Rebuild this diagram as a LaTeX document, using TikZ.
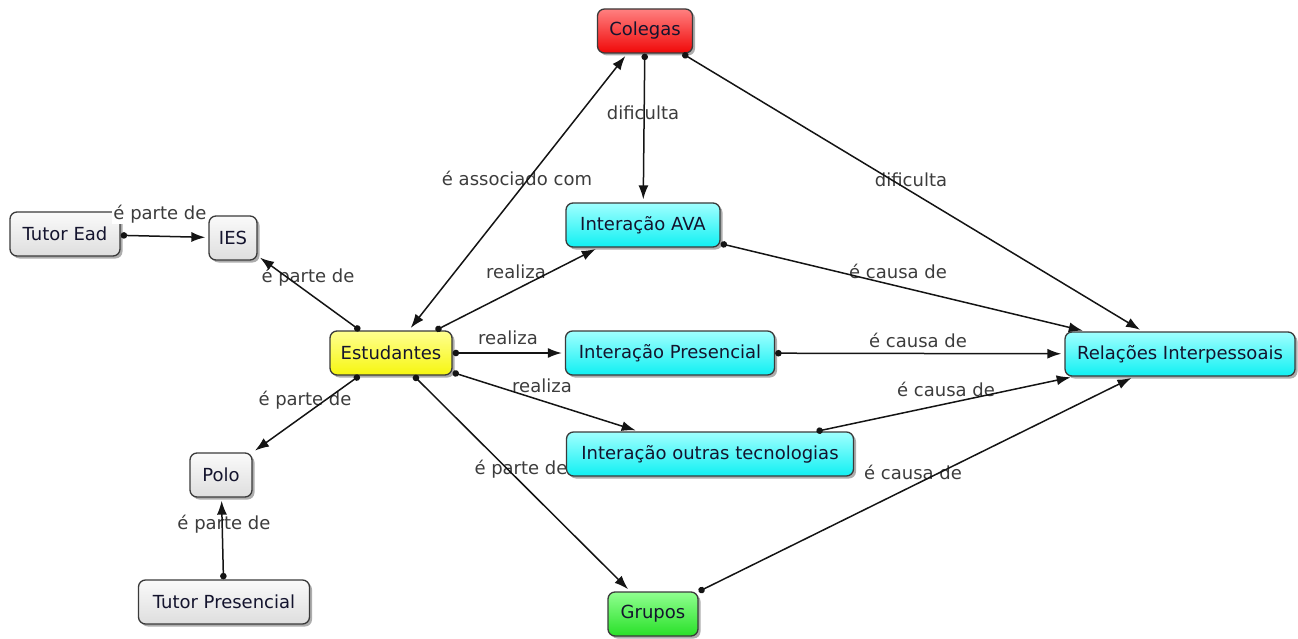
\documentclass[tikz,border=0pt]{standalone}
\usepackage{fontspec}
\setmainfont{DejaVu Sans}
\usetikzlibrary{arrows.meta,shadows}
\definecolor{boxline}{HTML}{3A3A3A}
\definecolor{nodetext}{HTML}{14142E}
\definecolor{labeltext}{HTML}{3C3C3C}
\definecolor{grayTop}{HTML}{FAFAFA}
\definecolor{grayBot}{HTML}{DEDEDE}
\definecolor{cyanTop}{HTML}{A0FFFF}
\definecolor{cyanBot}{HTML}{10F0F2}
\definecolor{yellowTop}{HTML}{FFFF90}
\definecolor{yellowBot}{HTML}{F6F610}
\definecolor{redTop}{HTML}{FF8080}
\definecolor{redBot}{HTML}{F00808}
\definecolor{greenTop}{HTML}{90FF90}
\definecolor{greenBot}{HTML}{28E028}
\begin{document}
\begin{tikzpicture}[x=1pt,y=-1pt,
  box/.style={draw=boxline, line width=1.3pt, rounded corners=7pt,
    minimum height=44pt, inner xsep=5pt, text=nodetext,
    font=\fontsize{18}{22}\selectfont,
    drop shadow={shadow xshift=2.5pt, shadow yshift=-2.5pt, opacity=0.4, fill=black!80}},
  graybox/.style={box, top color=grayTop, bottom color=grayBot},
  cyanbox/.style={box, top color=cyanTop, bottom color=cyanBot},
  yellowbox/.style={box, top color=yellowTop, bottom color=yellowBot},
  redbox/.style={box, top color=redTop, bottom color=redBot},
  greenbox/.style={box, top color=greenTop, bottom color=greenBot},
  lbl/.style={text=labeltext, font=\fontsize{18}{22}\selectfont, inner sep=1pt},
  conn/.style={draw=black!92, line width=1.5pt,
    {Circle[length=6.5pt]}-{Latex[length=14pt,width=10pt]}, shorten >=3pt},
  dbl/.style={draw=black!92, line width=1.5pt,
    {Latex[length=14pt,width=10pt]}-{Latex[length=14pt,width=10pt]},
    shorten >=3pt, shorten <=3pt}
]
\useasboundingbox (0,0) rectangle (1298,639);

% nodes
\node[redbox, minimum width=95pt] (colegas) at (645,31) {Colegas};
\node[graybox, minimum width=110pt] (tutoread) at (65,234) {Tutor Ead};
\node[graybox, minimum width=48pt] (ies) at (233,238) {IES};
\node[yellowbox, minimum width=122pt] (est) at (391,353) {Estudantes};
\node[cyanbox, minimum width=154pt] (ava) at (643,225) {Interação AVA};
\node[cyanbox, minimum width=209pt] (pres) at (670,353) {Interação Presencial};
\node[cyanbox, minimum width=230pt] (rel) at (1180,354) {Relações Interpessoais};
\node[cyanbox, minimum width=287pt] (outras) at (710,454) {Interação outras tecnologias};
\node[graybox, minimum width=62pt] (polo) at (221,475) {Polo};
\node[graybox, minimum width=171pt] (tp) at (224,602) {Tutor Presencial};
\node[greenbox, minimum width=90pt] (grupos) at (653,614) {Grupos};

% labels
\node[lbl, fill=white] (l1) at (160,214) {é parte de};
\node[lbl] (l2) at (308,277) {é parte de};
\node[lbl] (l3) at (305,400) {é parte de};
\node[lbl] (l4) at (224,524) {é parte de};
\node[lbl] (l5) at (517,178) {é associado com};
\node[lbl] (l6) at (643,113) {dificulta};
\node[lbl] (l7) at (911,180) {dificulta};
\node[lbl] (l8) at (516,272) {realiza};
\node[lbl] (l9) at (508,338) {realiza};
\node[lbl] (l10) at (542,386) {realiza};
\node[lbl] (l11) at (521,469) {é parte de};
\node[lbl] (l12) at (898,271) {é causa de};
\node[lbl] (l13) at (918,340) {é causa de};
\node[lbl] (l14) at (946,389) {é causa de};
\node[lbl] (l15) at (913,472) {é causa de};

% connectors
\draw[conn] (tutoread) -- (ies);
\draw[conn] (est) -- (ies);
\draw[conn] (est) -- (polo);
\draw[conn] (tp) -- (polo);
\draw[dbl] (colegas) -- (est);
\draw[conn] (colegas) -- (ava);
\draw[conn] (colegas) -- (rel);
\draw[conn] (est) -- (ava);
\draw[conn] (est) -- (pres);
\draw[conn] (est) -- (outras);
\draw[conn] (est) -- (grupos);
\draw[conn] (ava) -- (rel);
\draw[conn] (pres) -- (rel);
\draw[conn] (outras) -- (rel);
\draw[conn] (grupos) -- (rel);
\end{tikzpicture}
\end{document}
